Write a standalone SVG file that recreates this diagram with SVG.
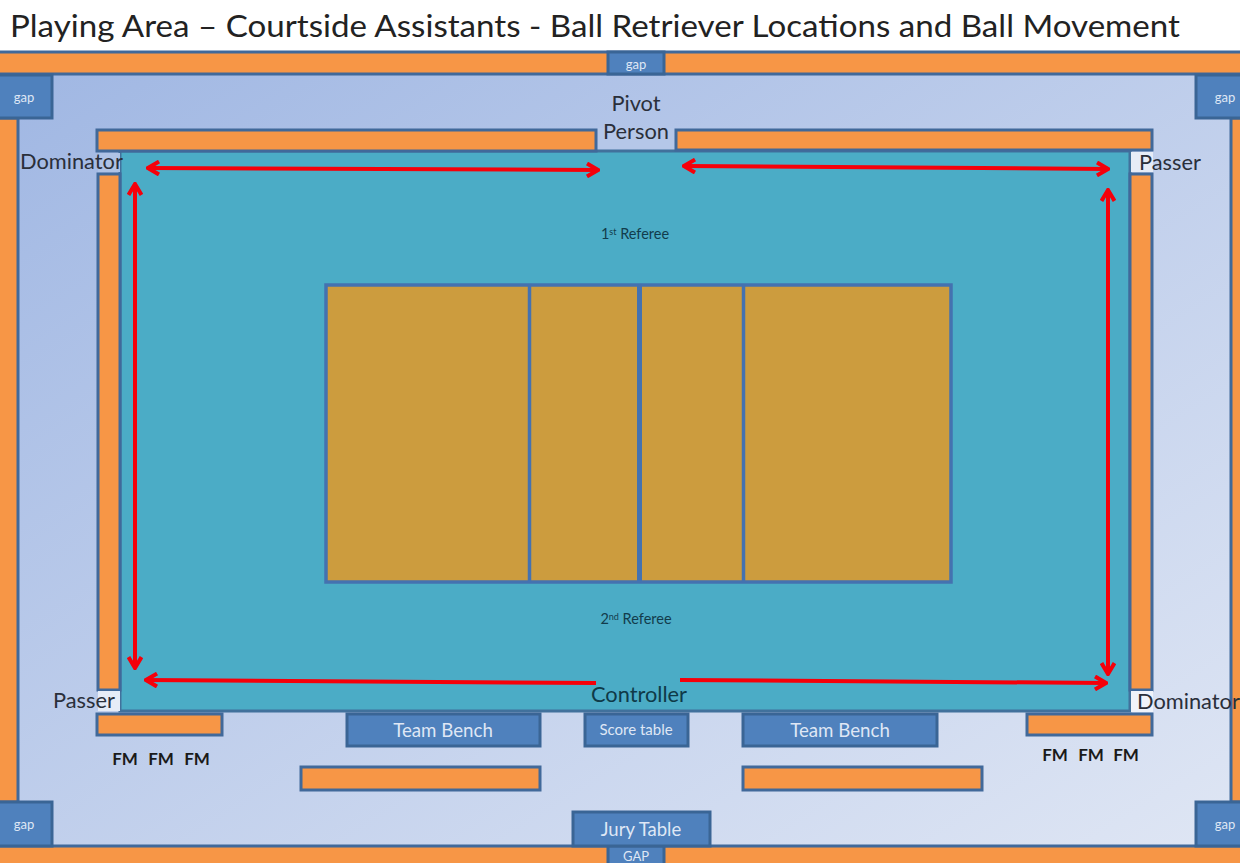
<svg xmlns="http://www.w3.org/2000/svg" width="1240" height="863" viewBox="0 0 1240 863">
<style>
text{font-family:"Lato","Liberation Sans",sans-serif}
.o{fill:#f79646;stroke:#41699a;stroke-width:3}
.b{fill:#4f81bd;stroke:#3a6595;stroke-width:3}
.w{fill:#dfe7f5;text-anchor:middle}
.k{fill:#2a2f3a;font-size:21.800px}
.f{fill:#1a1a1a;font-size:17px;font-weight:700;text-anchor:middle}
.r{fill:#123c4c;font-size:14.500px}
.s{font-size:9px}
.a{fill:none;stroke:#f5000a;stroke-width:4;marker-start:url(#h);marker-end:url(#h)}
.e{fill:none;stroke:#f5000a;stroke-width:4;marker-end:url(#h)}
</style>
<defs>
<linearGradient id="bg" x1="0" y1="0" x2="1" y2="1">
<stop offset="0" stop-color="#a0b7e3"/><stop offset="1" stop-color="#dfe6f4"/>
</linearGradient>
<marker id="h" viewBox="-13 -8 15 16" refX="0" refY="0" markerUnits="userSpaceOnUse" markerWidth="15" markerHeight="16" orient="auto-start-reverse">
<path d="M-11,-6.500 L0,0 L-11,6.500" fill="none" stroke="#f5000a" stroke-width="4"/>
</marker>
</defs>
<rect width="1240" height="863" fill="#fff"/>
<text id="title" x="10" y="37" font-size="31" fill="#222" textLength="1170" lengthAdjust="spacingAndGlyphs">Playing Area – Courtside Assistants - Ball Retriever Locations and Ball Movement</text>
<rect id="floor" x="0" y="74" width="1240" height="773" fill="url(#bg)"/>

<g id="top-band"><rect class="o" x="-3" y="52" width="1246" height="22"/></g>
<g id="top-gap"><rect class="b" x="608" y="52" width="56" height="22"/><text class="w" x="636" y="69" font-size="13">gap</text></g>
<g id="bottom-band"><rect class="o" x="-3" y="846" width="1246" height="20"/></g>
<g id="bottom-gap"><rect class="b" x="608" y="846" width="56" height="20"/><text class="w" x="636" y="861" font-size="13">GAP</text></g>
<g id="left-strip"><rect class="o" x="-3" y="118" width="21" height="684"/></g>
<g id="right-strip"><rect class="o" x="1231" y="118" width="12" height="684"/></g>
<g id="gap-tl"><rect class="b" x="-3" y="75" width="55" height="43"/><text class="w" x="24" y="102" font-size="13">gap</text></g>
<g id="gap-tr"><rect class="b" x="1196" y="75" width="47" height="43"/><text class="w" x="1225" y="102" font-size="13">gap</text></g>
<g id="gap-bl"><rect class="b" x="-3" y="802" width="55" height="44"/><text class="w" x="24" y="829" font-size="13">gap</text></g>
<g id="gap-br"><rect class="b" x="1196" y="802" width="47" height="44"/><text class="w" x="1225" y="829" font-size="13">gap</text></g>

<g id="free-zone"><rect x="120" y="151" width="1010" height="560" fill="#4bacc6" stroke="#41719c" stroke-width="3"/></g>
<g id="rail-top-left"><rect class="o" x="97" y="130" width="499" height="21"/></g>
<g id="rail-top-right"><rect class="o" x="676" y="130" width="476" height="20"/></g>
<g id="rail-left"><rect class="o" x="98" y="174" width="22" height="516"/></g>
<g id="rail-right"><rect class="o" x="1130" y="174" width="22" height="516"/></g>
<g id="rail-bottom-left"><rect class="o" x="97" y="714" width="125" height="21"/></g>
<g id="rail-bottom-right"><rect class="o" x="1027" y="714" width="125" height="21"/></g>
<g id="rail-lower-left"><rect class="o" x="301" y="767" width="239" height="23"/></g>
<g id="rail-lower-right"><rect class="o" x="743" y="767" width="239" height="23"/></g>

<g id="court">
<rect x="326" y="285" width="625" height="297" fill="#cc9c3e" stroke="#4472b0" stroke-width="3.500"/>
<line x1="529.500" y1="285" x2="529.500" y2="582" stroke="#4472b0" stroke-width="3.500"/>
<line x1="639.500" y1="285" x2="639.500" y2="582" stroke="#4472b0" stroke-width="5"/>
<line x1="743.500" y1="285" x2="743.500" y2="582" stroke="#4472b0" stroke-width="3.500"/>
</g>

<g id="team-bench-left"><rect class="b" x="347" y="714" width="193" height="32"/><text class="w" x="443" y="737" font-size="18.700">Team Bench</text></g>
<g id="score-table"><rect class="b" x="585" y="714" width="103" height="32"/><text class="w" x="636" y="735" font-size="15">Score table</text></g>
<g id="team-bench-right"><rect class="b" x="743" y="714" width="194" height="32"/><text class="w" x="840" y="737" font-size="18.700">Team Bench</text></g>
<g id="jury-table"><rect class="b" x="573" y="812" width="137" height="34"/><text class="w" x="641" y="836" font-size="18.500">Jury Table</text></g>

<g id="connectors">
<line class="a" x1="148" y1="168" x2="598" y2="170"/>
<line class="a" x1="684" y1="166" x2="1108" y2="169"/>
<line class="a" x1="135" y1="184" x2="135" y2="668"/>
<line class="a" x1="1108" y1="190" x2="1108" y2="674"/>
<line class="e" x1="596" y1="683" x2="146" y2="680"/>
<line class="e" x1="680" y1="680" x2="1106" y2="683"/>
</g>

<g id="label-pivot"><rect x="598" y="128" width="76" height="21" fill="#b5c7e8"/><text class="k" x="636" y="111" text-anchor="middle">Pivot</text><text class="k" x="636" y="139" text-anchor="middle">Person</text></g>
<g id="label-dominator-tl"><rect x="98" y="153" width="22" height="19" fill="#afc3e6"/><text class="k" x="20" y="169">Dominator</text></g>
<g id="label-passer-tr"><rect x="1131" y="152" width="22" height="20" fill="#e6ecf7"/><text class="k" x="1139" y="170">Passer</text></g>
<g id="label-passer-bl"><rect x="98" y="691" width="22" height="20" fill="#e6ecf7"/><text class="k" x="53" y="708">Passer</text></g>
<g id="label-dominator-br"><rect x="1131" y="691" width="22" height="21" fill="#f0f3fa"/><text class="k" x="1137" y="709">Dominator</text></g>
<g id="label-controller"><text class="k" x="639" y="702" text-anchor="middle" style="fill:#0f3a48">Controller</text></g>
<g id="label-ref1"><text class="r" x="635" y="239" text-anchor="middle">1<tspan class="s" dy="-4">st</tspan><tspan dy="4"> Referee</tspan></text></g>
<g id="label-ref2"><text class="r" x="636" y="624" text-anchor="middle">2<tspan class="s" dy="-4">nd</tspan><tspan dy="4"> Referee</tspan></text></g>
<g id="fm-left"><text class="f" x="125" y="765">FM</text><text class="f" x="161" y="765">FM</text><text class="f" x="197" y="765">FM</text></g>
<g id="fm-right"><text class="f" x="1055" y="761">FM</text><text class="f" x="1091" y="761">FM</text><text class="f" x="1126" y="761">FM</text></g>
</svg>
